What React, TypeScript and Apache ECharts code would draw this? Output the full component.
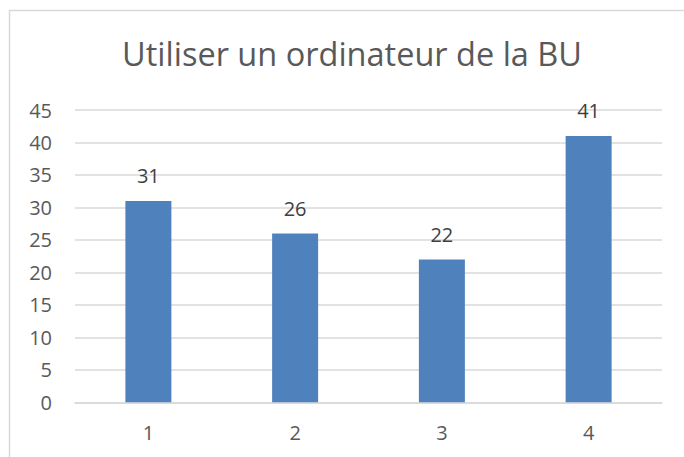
import React, { useEffect, useRef } from "react";
import * as echarts from "echarts";

const categories = ["1", "2", "3", "4"];
const values = [31, 26, 22, 41];
const title = "Utiliser un ordinateur de la BU";

export default function App() {
  const ref = useRef<HTMLDivElement>(null);
  useEffect(() => {
    if (!ref.current) return;
    const chart = echarts.init(ref.current, null, { renderer: "svg" });
    chart.setOption({
      animation: false,
      backgroundColor: "#ffffff",
      title: {
        text: title,
        left: 117,
        top: 32,
        textStyle: {
          fontFamily: "Open Sans",
          fontSize: 32.5,
          fontWeight: "normal",
          color: "#595959",
        },
      },
      graphic: [
        {
          type: "rect",
          shape: { x: 9.5, y: 10.5, width: 700, height: 500 },
          style: { fill: "none", stroke: "#d9d9d9", lineWidth: 1.5 },
          silent: true,
        },
      ],
      grid: { left: 75, right: 22, top: 110, bottom: 54.7 },
      xAxis: {
        type: "category",
        data: categories,
        axisLine: { show: true, lineStyle: { color: "#d9d9d9", width: 1.5 } },
        axisTick: { show: false },
        axisLabel: {
          color: "#595959",
          fontFamily: "Open Sans",
          fontSize: 20,
          margin: 20,
        },
      },
      yAxis: {
        type: "value",
        min: 0,
        max: 45,
        interval: 5,
        axisLine: { show: false },
        axisTick: { show: false },
        splitLine: { lineStyle: { color: "#d9d9d9", width: 1.5 } },
        axisLabel: {
          color: "#595959",
          fontFamily: "Open Sans",
          fontSize: 20,
          margin: 23,
        },
      },
      series: [
        {
          type: "bar",
          data: values,
          barWidth: 46,
          itemStyle: { color: "#4f81bd" },
          label: {
            show: true,
            position: "top",
            distance: 15,
            color: "#404040",
            fontFamily: "Open Sans",
            fontSize: 20,
          },
        },
      ],
    });
    return () => chart.dispose();
  }, []);
  return (
    <div
      ref={ref}
      style={{ position: "fixed", left: 0, top: 0, width: 684, height: 457 }}
    />
  );
}
